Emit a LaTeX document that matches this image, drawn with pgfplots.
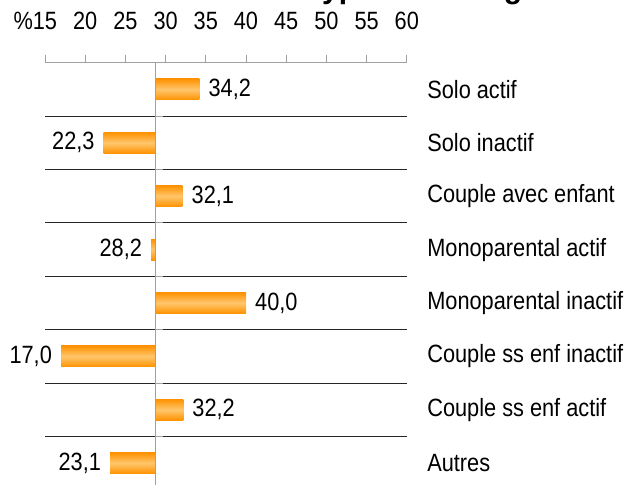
\documentclass[border=0pt]{standalone}
\usepackage{pgfplots}
\usepackage{pgfplotstable}
\pgfplotsset{compat=1.18}
\usepackage{fontspec}
\setmainfont{Liberation Sans}[FakeStretch=0.87]
\newfontfamily\titlefont{Liberation Sans}
\definecolor{barEdge}{RGB}{255,146,0}
\definecolor{barMid}{RGB}{255,198,108}
\definecolor{axGray}{RGB}{160,160,160}

\pgfplotstableread{
idx val
0 34.2
1 22.3
2 32.1
3 28.2
4 40.0
5 17.0
6 32.2
7 23.1
}\data

\pgfplotsset{
  mybar/.style={xbar, bar shift=0pt, bar width=21pt, draw=none,
    top color=barEdge, bottom color=barEdge, middle color=barMid,
    nodes near coords, point meta=explicit,
    nodes near coords style={text=black, font=\fontsize{25}{30}\selectfont, anchor=#1, inner xsep=9pt}},
}

\begin{document}
\begin{tikzpicture}[font=\fontsize{25}{30}\selectfont]
\path[use as bounding box] (0pt,0pt) rectangle (628pt,485pt);
\clip (0pt,0pt) rectangle (628pt,485pt);
\node[overlay, anchor=base west, font=\titlefont\bfseries\fontsize{30}{36}\selectfont, inner sep=0pt] at (312pt,486.5pt) {type de ménage};
\begin{axis}[
  overlay,
  at={(45pt,422.3pt)}, anchor=north west,
  scale only axis, width=361.8pt, height=422.3pt,
  clip=false,
  xmin=-13.7, xmax=31.3,
  ymin=-0.5, ymax=7.41, y dir=reverse,
  axis x line*=top,
  axis y line*=right,
  y axis line style={draw=none},
  x axis line style={axGray, line width=1.2pt},
  xtick={-13.7,-8.7,-3.7,1.3,6.3,11.3,16.3,21.3,26.3,31.3},
  xticklabels={\llap{\%}15,20,25,30,35,40,45,50,55,60},
  tick align=outside,
  xtick style={axGray, line width=1pt},
  major tick length=8pt,
  xticklabel style={anchor=base},
  xticklabel shift=24.7pt,
  ytick={0,...,7},
  yticklabels={Solo actif, Solo inactif, Couple avec enfant, Monoparental actif, Monoparental inactif, Couple ss enf inactif, Couple ss enf actif, Autres},
  ytick style={draw=none},
  yticklabel style={anchor=west, xshift=9pt},
  minor ytick={0.5,1.5,...,6.5},
  minor y tick style={draw=none},
  yminorgrids,
  minor grid style={black!85, line width=1pt},
  /pgf/number format/.cd, fixed, fixed zerofill, precision=1, use comma, assume math mode=true,
]
\pgfplotsinvokeforeach{0.5,1.5,2.5,3.5,4.5,5.5,6.5}{
  \draw[axGray, line width=1pt] (axis cs:0,#1) -- ([xshift=8pt]axis cs:0,#1);
}
\pgfplotsinvokeforeach{0,2,4,6}{
\addplot[mybar=west, y filter/.expression={y==#1 ? y : nan}]
  table[x expr=\thisrow{val}-28.7, y=idx, meta=val] {\data};
}
\pgfplotsinvokeforeach{1,3,5,7}{
\addplot[mybar=east, y filter/.expression={y==#1 ? y : nan}]
  table[x expr=\thisrow{val}-28.7, y=idx, meta=val] {\data};
}
\draw[axGray, line width=1pt] (axis cs:0,-0.5) -- (axis cs:0,7.41);
\end{axis}
\end{tikzpicture}
\end{document}
